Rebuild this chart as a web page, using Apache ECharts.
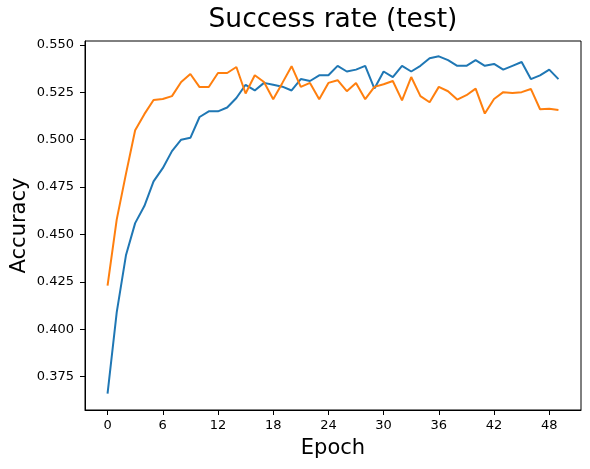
<!DOCTYPE html>
<html>
<head>
<meta charset="utf-8">
<script src="https://cdn.jsdelivr.net/npm/echarts@6/dist/echarts.min.js"></script>
<style>
  html, body { margin: 0; padding: 0; background: #fff; }
  #chart { width: 590px; height: 469px; }
</style>
</head>
<body>
<div id="chart"></div>
<script>
// epochs 0..49
var epochs = [0, 1, 2, 3, 4, 5, 6, 7, 8, 9, 10, 11, 12, 13, 14, 15, 16, 17, 18, 19,
    20, 21, 22, 23, 24, 25, 26, 27, 28, 29, 30, 31, 32, 33, 34, 35, 36, 37, 38, 39,
    40, 41, 42, 43, 44, 45, 46, 47, 48, 49];

// blue line
var seriesA = [0.366, 0.409, 0.439, 0.456, 0.465, 0.478, 0.485, 0.494, 0.500, 0.501,
    0.512, 0.515, 0.515, 0.517, 0.522, 0.529, 0.526, 0.530, 0.529, 0.528,
    0.526, 0.532, 0.531, 0.534, 0.534, 0.539, 0.536, 0.537, 0.539, 0.527,
    0.536, 0.533, 0.539, 0.536, 0.539, 0.543, 0.544, 0.542, 0.539, 0.539,
    0.542, 0.539, 0.540, 0.537, 0.539, 0.541, 0.532, 0.534, 0.537, 0.532];

// orange line
var seriesB = [0.423, 0.458, 0.482, 0.505, 0.5135, 0.521, 0.5215, 0.523, 0.5305, 0.5347,
    0.5278, 0.5278, 0.5352, 0.5352, 0.5384, 0.5244, 0.534, 0.5305, 0.5214, 0.530,
    0.5388, 0.5279, 0.530, 0.5214, 0.530, 0.5314, 0.5256, 0.530, 0.5214, 0.5279,
    0.5293, 0.531, 0.5208, 0.5331, 0.523, 0.5198, 0.5279, 0.5256, 0.5212, 0.5235,
    0.527, 0.5138, 0.5215, 0.5251, 0.5247, 0.5251, 0.5268, 0.5161, 0.5163, 0.5157];

var xTicks = [0, 6, 12, 18, 24, 30, 36, 42, 48];
var yTicks = [0.375, 0.400, 0.425, 0.450, 0.475, 0.500, 0.525, 0.550];

function pairs(ys) {
    return epochs.map(function (e, i) { return [e, ys[i]]; });
}

var font = 'DejaVu Sans';
var chart = echarts.init(document.getElementById('chart'), null, { renderer: 'canvas' });

chart.setOption({
    animation: false,
    backgroundColor: '#fff',
    title: {
        text: 'Success rate (test)',
        left: 333,
        top: 7,
        padding: 0,
        textAlign: 'center',
        textStyle: { fontFamily: font, fontSize: 26.5, fontWeight: 'normal', color: '#000' }
    },
    grid: {
        left: 85, right: 9, top: 41, bottom: 59,
        outerBoundsMode: 'none',
        show: true, borderColor: '#000', borderWidth: 1
    },
    xAxis: {
        type: 'value',
        min: -2.45,
        max: 51.45,
        name: 'Epoch',
        nameLocation: 'middle',
        nameGap: 28,
        nameMoveOverlap: false,
        nameTextStyle: { fontFamily: font, fontSize: 21, color: '#000' },
        axisLine: { show: true, onZero: false, lineStyle: { color: '#000', width: 1 } },
        axisTick: { show: true, length: 5, customValues: xTicks, lineStyle: { color: '#000' } },
        axisLabel: { customValues: xTicks, margin: 9, fontFamily: font, fontSize: 13, color: '#000' },
        splitLine: { show: false }
    },
    yAxis: {
        type: 'value',
        min: 0.3574,
        max: 0.5521,
        name: 'Accuracy',
        nameLocation: 'middle',
        nameGap: 55,
        nameMoveOverlap: false,
        nameTextStyle: { fontFamily: font, fontSize: 21, color: '#000' },
        axisLine: { show: true, onZero: false, lineStyle: { color: '#000', width: 1 } },
        axisTick: { show: true, length: 5, customValues: yTicks, lineStyle: { color: '#000' } },
        axisLabel: {
            customValues: yTicks, margin: 11, fontFamily: font, fontSize: 13, color: '#000',
            formatter: function (v) { return v.toFixed(3); }
        },
        splitLine: { show: false }
    },
    series: [
        {
            type: 'line',
            data: pairs(seriesA),
            showSymbol: false,
            lineStyle: { color: '#1f77b4', width: 2 },
            itemStyle: { color: '#1f77b4' }
        },
        {
            type: 'line',
            data: pairs(seriesB),
            showSymbol: false,
            lineStyle: { color: '#ff7f0e', width: 2 },
            itemStyle: { color: '#ff7f0e' }
        }
    ]
});
</script>
</body>
</html>
